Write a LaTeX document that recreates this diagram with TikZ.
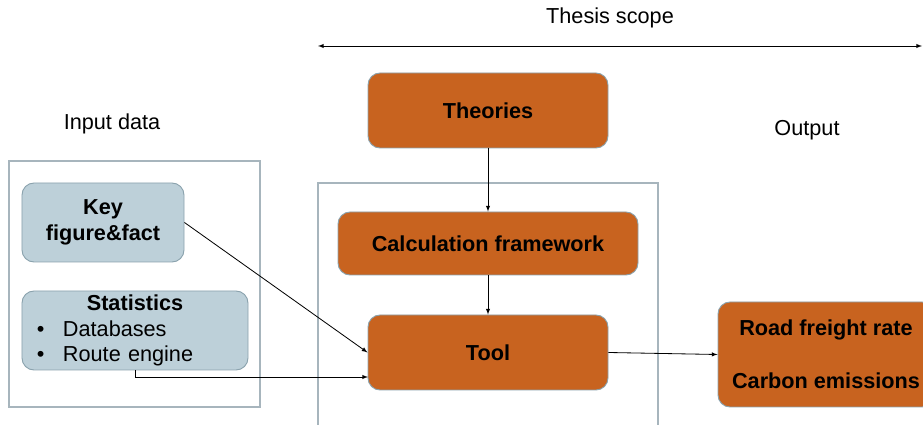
\documentclass[tikz,border=0pt]{standalone}
\usepackage{fontspec}
\setmainfont{Liberation Sans}
\definecolor{rust}{HTML}{C8631F}
\definecolor{paleblue}{HTML}{BDD0D9}
\definecolor{edgeblue}{HTML}{8AA2AD}
\definecolor{framegrey}{HTML}{A7B5BD}
\begin{document}
\begin{tikzpicture}[x=0.3mm,y=-0.3mm,
  font=\fontsize{18.5}{22}\selectfont,
  orangebox/.style={draw=edgeblue,line width=0.8pt,fill=rust,rounded corners=3.6mm,font=\fontsize{18.5}{22}\selectfont\bfseries,align=center,inner sep=0pt},
  bluebox/.style={draw=edgeblue,line width=0.8pt,fill=paleblue,rounded corners=3.6mm,inner sep=0pt},
  flow/.style={-latex,line width=0.7pt}]
\useasboundingbox (0,0) rectangle (923,425);
\draw[framegrey,line width=1.2pt] (9,161) rectangle (260,407);
\draw[framegrey,line width=1.2pt] (318,426) -- (318,183) -- (658,183) -- (658,426);
\node (scope) at (610,18) {Thesis scope};
\node (input) at (112,124) {Input data};
\node (output) at (807,130) {Output};
\coordinate (scopeL) at (318,46);
\coordinate (scopeR) at (922,46);
\draw[latex-latex,line width=0.7pt] (scopeL) -- (scopeR);
\node[orangebox,minimum width=72mm,minimum height=22.5mm] (theories) at (488,110.5) {Theories};
\node[orangebox,minimum width=90mm,minimum height=18.9mm] (calc) at (488,243.5) {Calculation framework};
\node[orangebox,minimum width=72mm,minimum height=22.5mm] (tool) at (488,352.5) {Tool};
\node[orangebox,minimum width=64.8mm,minimum height=31.5mm] (road) at (826,354.5) {Road freight rate\\[23pt]Carbon emissions};
\node[bluebox,minimum width=48.6mm,minimum height=23.7mm,align=center,font=\fontsize{18.5}{22}\selectfont\bfseries] (key) at (103,222.5) {Key\\figure\&fact};
\node[bluebox,minimum width=67.8mm,minimum height=23.7mm,text width=58.8mm] (stats) at (135,330.5)
  {\centering\textbf{Statistics}\par\raggedright\makebox[7.8mm][l]{\textbullet}Databases\par\makebox[7.8mm][l]{\textbullet}Route engine\par};
\coordinate (toolin) at (368,377);
\draw[flow] (theories) -- (calc);
\draw[flow] (calc) -- (tool);
\draw[flow] (key.east) -- (tool.west);
\draw[flow] (stats.south) |- (toolin);
\draw[flow] (tool.east) -- (road.west);
\end{tikzpicture}
\end{document}
